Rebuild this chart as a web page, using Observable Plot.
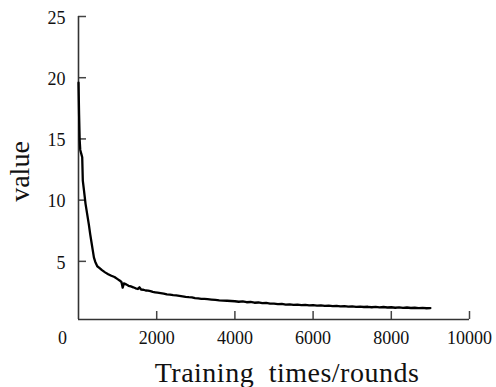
<!DOCTYPE html>
<html>
<head>
<meta charset="utf-8">
<script src="https://cdn.jsdelivr.net/npm/d3@7"></script>
<script src="https://cdn.jsdelivr.net/npm/@observablehq/plot@0.6"></script>
<style>
  html, body { margin: 0; padding: 0; background: #fff; }
  #chart svg { display: block; }
  #chart svg text { font-family: 'Liberation Serif', 'Times New Roman', serif; }
  .xlab text { letter-spacing: 0.5px; word-spacing: 7px; }
</style>
</head>
<body>
<div id="chart"></div>
<script>
// Training iterations (x) and value (y)
const iterations = [
  0, 15, 30, 45, 70, 95, 110, 140, 180, 220, 265, 300, 330, 360, 395, 430, 480, 540, 600, 680,
  760, 840, 920, 1000, 1060, 1100, 1130, 1160, 1220, 1280, 1340, 1400, 1460, 1520, 1560, 1600,
  1660, 1720, 1780, 1840, 1900, 1960, 2020, 2100, 2180, 2260, 2340, 2420, 2500, 2580, 2660,
  2740, 2820, 2900, 2980, 3060, 3140, 3220, 3300, 3400, 3500, 3600, 3700, 3800, 3900, 4000,
  4100, 4200, 4300, 4400, 4500, 4600, 4700, 4800, 4900, 5000, 5100, 5200, 5300, 5400, 5500,
  5600, 5700, 5800, 5900, 6000, 6100, 6200, 6300, 6400, 6500, 6600, 6700, 6800, 6900, 7000,
  7100, 7200, 7300, 7400, 7500, 7600, 7700, 7800, 7900, 8000, 8100, 8200, 8300, 8400, 8500,
  8600, 8700, 8800, 8900, 9000
];
const values = [
  19.6, 17.0, 14.9, 14.1, 13.8, 13.5, 11.6, 10.8, 9.7, 8.9, 8.0, 7.2, 6.6, 6.0, 5.3, 4.95, 4.6, 4.45, 4.28, 4.1,
  3.95, 3.82, 3.72, 3.55, 3.42, 3.3, 2.85, 3.2, 3.12, 3.0, 2.95, 2.88, 2.8, 2.74, 2.88, 2.7,
  2.68, 2.62, 2.6, 2.56, 2.5, 2.47, 2.44, 2.4, 2.36, 2.3, 2.28, 2.24, 2.22, 2.18, 2.14,
  2.1, 2.07, 2.05, 2.0, 1.97, 1.94, 1.93, 1.91, 1.88, 1.85, 1.82, 1.8, 1.78, 1.76, 1.74,
  1.70, 1.73, 1.66, 1.68, 1.62, 1.64, 1.58, 1.6, 1.55, 1.54, 1.5, 1.52, 1.46, 1.49, 1.44,
  1.47, 1.43, 1.45, 1.41, 1.43, 1.38, 1.4, 1.36, 1.38, 1.34, 1.37, 1.32, 1.35, 1.3, 1.32,
  1.28, 1.31, 1.27, 1.29, 1.25, 1.28, 1.24, 1.27, 1.23, 1.25, 1.21, 1.24, 1.2, 1.23, 1.19,
  1.21, 1.18, 1.2, 1.17, 1.18
];

const xTickValues = [2000, 4000, 6000, 8000, 10000];
const xTickLabels = [0, 2000, 4000, 6000, 8000, 10000];
const yTickValues = [5, 10, 15, 20, 25];
const xDomain = [0, 10000];
const yDomain = [0.25, 25];
const xLabel = "Training times/rounds";
const yLabel = "value";

const data = iterations.map((x, i) => ({x, y: values[i]}));
const font = "'Liberation Serif', 'Times New Roman', serif";

const W = 496, H = 387, ML = 78, MR = 27, MT = 16, MB = 68;
const tickLen = 8;
const frameW = W - ML - MR, frameH = H - MT - MB;

const chart = Plot.plot({
  width: W,
  height: H,
  marginLeft: ML,
  marginRight: MR,
  marginTop: MT,
  marginBottom: MB,
  style: {fontFamily: font, fontSize: "18px", color: "#111", background: "#fff"},
  x: {domain: xDomain, axis: null},
  y: {domain: yDomain, axis: null},
  marks: [
    // inward tick marks
    Plot.tickX(xTickValues, {x: d => d, insetTop: frameH - tickLen, stroke: "#444", strokeWidth: 1.5}),
    Plot.tickY(yTickValues, {y: d => d, insetRight: frameW - tickLen, stroke: "#444", strokeWidth: 1.5}),
    // tick labels
    Plot.text(xTickLabels.filter(d => d !== 0), {x: d => d, frameAnchor: "bottom", textAnchor: "middle", lineAnchor: "middle", dy: 18.5, text: d => String(d), fontSize: 18, fontFamily: font, fill: "#111"}),
    Plot.text(xTickLabels.filter(d => d === 0), {x: d => d, frameAnchor: "bottom", textAnchor: "middle", lineAnchor: "middle", dy: 18.5, dx: -16, text: d => String(d), fontSize: 18, fontFamily: font, fill: "#111"}),
    Plot.text(yTickValues, {y: d => d, frameAnchor: "left", textAnchor: "end", lineAnchor: "middle", dx: -13, dy: 1.5, text: d => String(d), fontSize: 18, fontFamily: font, fill: "#111"}),
    // axis lines
    Plot.ruleX([xDomain[0]], {stroke: "#333", strokeWidth: 1.6}),
    Plot.ruleY([yDomain[0]], {stroke: "#333", strokeWidth: 1.6}),
    // data line
    Plot.line(data, {x: "x", y: "y", stroke: "#000", strokeWidth: 2.3, strokeLinejoin: "round", strokeLinecap: "round"}),
    // axis titles
    Plot.text([xLabel], {frameAnchor: "bottom", textAnchor: "middle", lineAnchor: "middle", dy: 54, dx: 13, fontSize: 28, fontFamily: font, fill: "#111", className: "xlab"}),
    Plot.text([yLabel], {frameAnchor: "left", textAnchor: "middle", lineAnchor: "middle", rotate: -90, dx: -58.6, dy: 3.5, fontSize: 28, fontFamily: font, fill: "#111"})
  ]
});
document.getElementById("chart").appendChild(chart);
</script>
</body>
</html>
